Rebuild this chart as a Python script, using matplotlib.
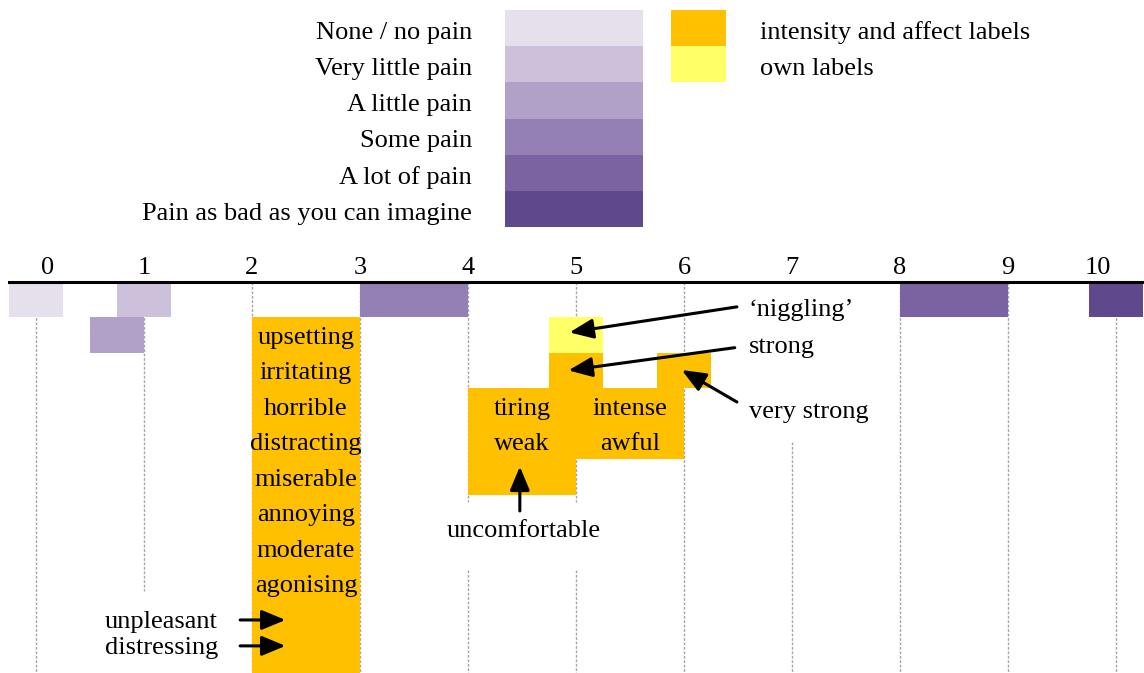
import matplotlib.pyplot as plt
from matplotlib.patches import Rectangle

plt.rcParams['font.family'] = ['Liberation Serif', 'DejaVu Serif']

# pain levels (purple scale)
levels = ['None / no pain', 'Very little pain', 'A little pain', 'Some pain',
          'A lot of pain', 'Pain as bad as you can imagine']
level_colors = ['#e5e0ec', '#ccc0da', '#b1a0c7', '#9580b5', '#7a63a0', '#60488d']
level_lo = [-0.25, 0.75, 0.5, 3.0, 8.0, 9.75]
level_hi = [0.25, 1.25, 1.0, 4.0, 9.0, 10.25]
level_row = [0, 0, 1, 0, 0, 0]

# label boxes: (scale from, scale to, first row, last row, kind)
box_lo = [2.0, 4.75, 4.75, 5.75, 4.0, 5.0]
box_hi = [3.0, 5.25, 5.25, 6.25, 5.0, 6.0]
box_top = [1, 1, 2, 2, 3, 3]
box_bot = [11, 2, 3, 3, 6, 5]
box_kind = ['affect', 'own', 'affect', 'affect', 'affect', 'affect']
kind_colors = {'affect': '#ffc000', 'own': '#ffff66'}
kind_names = {'affect': 'intensity and affect labels', 'own': 'own labels'}

big_box_words = ['upsetting', 'irritating', 'horrible', 'distracting',
                 'miserable', 'annoying', 'moderate', 'agonising']
box4_words = ['tiring', 'weak']
box5_words = ['intense', 'awful']

ticks = list(range(11))

fig = plt.figure(figsize=(11.44, 6.73), dpi=100)
ax = fig.add_axes([0, 0, 1, 1])
ax.set_xlim(-36 / 108, 1108 / 108)
ax.set_ylim((673 - 282) / 35.5, -282 / 35.5)
ax.axis('off')

fs = 19

# dotted grid lines, with the gaps of the original
gaps = {1: [(8.7, 12)], 4: [(6.2, 8.1)], 5: [(6.2, 8.1)], 7: [(-1, 4.5)]}
ybot = (673 - 282) / 35.5
for t in ticks:
    segs = [(0, ybot)]
    for g0, g1 in gaps.get(t, []):
        new = []
        for s0, s1 in segs:
            if g0 > s0:
                new.append((s0, min(g0, s1)))
            if g1 < s1:
                new.append((max(g1, s0), s1))
        segs = new
    for s0, s1 in segs:
        ax.plot([t, t], [s0, s1], color='#a6a6a6', lw=1.0,
                ls=(0, (2, 1.2)), zorder=1)

# axis line and tick labels
ax.plot([-0.25, 10.3], [0, 0], color='black', lw=2.2, zorder=4)
for t in ticks:
    xt = t
    if t == 0:
        xt = 0.11
    if t == 10:
        xt = 9.83
    ax.text(xt, -0.22, str(t), ha='center', va='baseline', fontsize=fs)

# purple bars
for lo, hi, r, c in zip(level_lo, level_hi, level_row, level_colors):
    ax.add_patch(Rectangle((lo, r), hi - lo, 1, facecolor=c, edgecolor='none', zorder=3))

# label boxes
for lo, hi, t0, t1, k in zip(box_lo, box_hi, box_top, box_bot, box_kind):
    ax.add_patch(Rectangle((lo, t0), hi - lo, t1 - t0, facecolor=kind_colors[k],
                           edgecolor='none', zorder=2))

for i, w in enumerate(big_box_words):
    ax.text(2.5, 1.5 + i, w, ha='center', va='center_baseline', fontsize=fs, zorder=5)
for i, w in enumerate(box4_words):
    ax.text(4.5, 3.5 + i, w, ha='center', va='center_baseline', fontsize=fs, zorder=5)
for i, w in enumerate(box5_words):
    ax.text(5.5, 3.5 + i, w, ha='center', va='center_baseline', fontsize=fs, zorder=5)

arrow = dict(arrowstyle='-|>,head_length=1.2,head_width=0.5', color='black', lw=2.2,
             shrinkA=0, shrinkB=0, mutation_scale=12)

# right-hand labels
ax.text(6.60, 0.72, '\u2018niggling\u2019', ha='left', va='center_baseline', fontsize=fs)
ax.annotate('', xy=(4.94, 1.42), xytext=(6.49, 0.70), arrowprops=arrow, zorder=6)
ax.text(6.60, 1.75, 'strong', ha='left', va='center_baseline', fontsize=fs)
ax.annotate('', xy=(4.93, 2.49), xytext=(6.47, 1.85), arrowprops=arrow, zorder=6)
ax.text(6.60, 3.6, 'very strong', ha='left', va='center_baseline', fontsize=fs)
ax.annotate('', xy=(5.98, 2.48), xytext=(6.49, 3.38), arrowprops=arrow, zorder=6)

ax.text(4.52, 6.95, 'uncomfortable', ha='center', va='center_baseline', fontsize=fs)
ax.annotate('', xy=(4.48, 5.2), xytext=(4.48, 6.45), arrowprops=arrow, zorder=6)

ax.text(1.685, 9.52, 'unpleasant', ha='right', va='center_baseline', fontsize=fs)
ax.annotate('', xy=(2.31, 9.52), xytext=(1.89, 9.52), arrowprops=arrow, zorder=6)
ax.text(1.685, 10.25, 'distressing', ha='right', va='center_baseline', fontsize=fs)
ax.annotate('', xy=(2.31, 10.25), xytext=(1.89, 10.25), arrowprops=arrow, zorder=6)

# legend at the top, in pixel units
leg = fig.add_axes([0, 0, 1, 1], facecolor='none')
leg.set_xlim(0, 1144)
leg.set_ylim(673, 0)
leg.axis('off')
rh = 36.2
for i, (name, c) in enumerate(zip(levels, level_colors)):
    leg.add_patch(Rectangle((505, 10 + i * rh), 138, rh, facecolor=c, edgecolor='none'))
    leg.text(472, 12 + (i + 0.5) * rh, name, ha='right', va='center_baseline', fontsize=fs)
for i, k in enumerate(['affect', 'own']):
    leg.add_patch(Rectangle((671, 10 + i * rh), 55, rh, facecolor=kind_colors[k],
                            edgecolor='none'))
    leg.text(760, 12 + (i + 0.5) * rh, kind_names[k], ha='left', va='center_baseline',
             fontsize=fs)

fig.savefig('out.png', dpi=100)
